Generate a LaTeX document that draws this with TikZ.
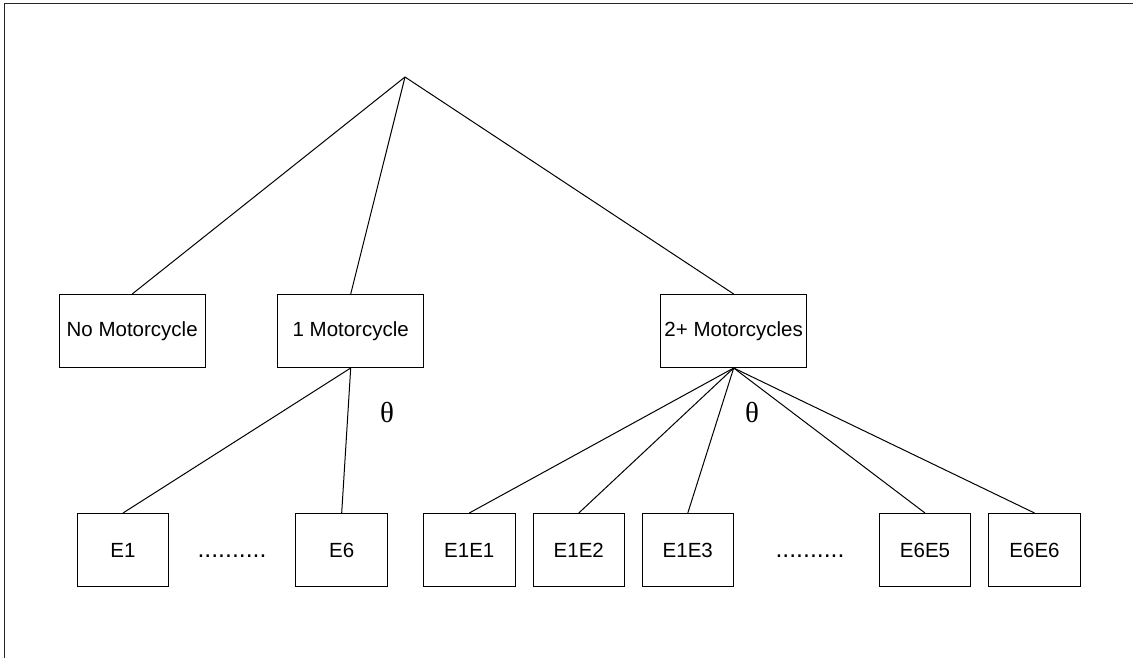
\documentclass[tikz,border=0pt]{standalone}
\usepackage{fontspec}
\setmainfont{Liberation Sans}
\newfontfamily\thetafont{Liberation Serif}
\usetikzlibrary{positioning}

\begin{document}
\begin{tikzpicture}[x=1pt,y=-1pt,line width=1pt,
	catbox/.style={draw,minimum width=146pt,minimum height=73pt,inner sep=0pt,font=\fontsize{20.5}{24}\selectfont},
	evbox/.style={draw,minimum width=91.5pt,minimum height=73pt,inner sep=0pt,font=\fontsize{20.5}{24}\selectfont},
	dotsnode/.style={font=\fontsize{24.8}{28}\selectfont,inner sep=0pt,anchor=base},
	anglabel/.style={font=\thetafont\fontsize{29}{32}\selectfont,inner sep=0pt}]
			\useasboundingbox (0,0) rectangle (1133,658);
			\draw[line width=1.6pt,black!85] (1133,3.5) -- (4.5,3.5) -- (4.5,658);
			% root of the tree
			\coordinate (root) at (405,77);
			\node[catbox] (m_0) at (132.2,331) {No Motorcycle};
			\node[catbox] (m_1) at (350.7,331) {1 Motorcycle};
			\node[catbox] (m_2) at (733.7,331) {2+ Motorcycles};
			% single events
			\node[evbox] (e_1) at (123,550) {E1};
			\node[evbox] (e_6) at (341.7,550) {E6};
			\node[dotsnode] (d_1) at (232,557) {..........};
			% pairs of events
			\node[evbox] (e_11) at (469.3,550) {E1E1};
			\node[evbox] (e_12) at (578.8,550) {E1E2};
			\node[evbox] (e_13) at (687.8,550) {E1E3};
			\node[dotsnode] (d_2) at (810,557) {..........};
			\node[evbox] (e_65) at (925,550) {E6E5};
			\node[evbox] (e_66) at (1034.5,550) {E6E6};
			\node[anglabel] (t_1) at (387,413) {θ};
			\node[anglabel] (t_2) at (752,413) {θ};
			\draw (root) -- (m_0.north);
			\draw (root) -- (m_1.north);
			\draw (root) -- (m_2.north);
			\foreach \e in {e_1,e_6}
				\draw (m_1.south) -- (\e.north);
			\foreach \e in {e_11,e_12,e_13,e_65,e_66}
				\draw (m_2.south) -- (\e.north);
		\end{tikzpicture}
\end{document}
